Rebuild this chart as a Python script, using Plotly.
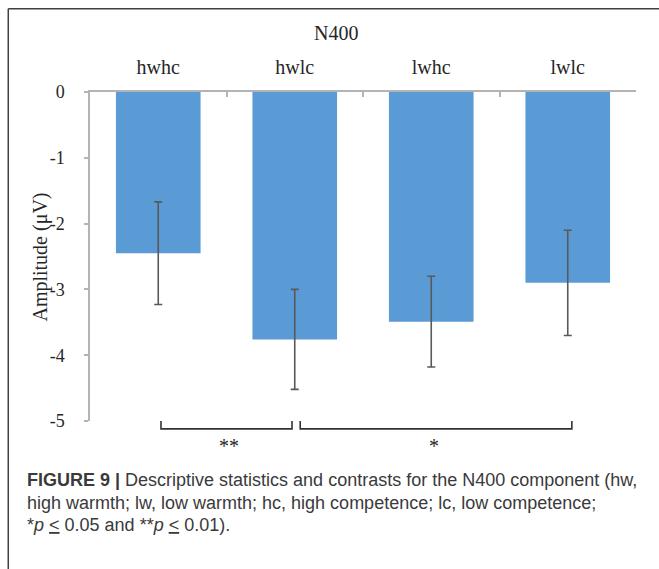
import plotly.graph_objects as go

# ---- data ----
categories = ["hwhc", "hwlc", "lwhc", "lwlc"]
means = [-2.45, -3.76, -3.49, -2.90]
errors = [0.78, 0.76, 0.69, 0.80]
y_ticks = [0, -1, -2, -3, -4, -5]
y_tick_text = ["0", "-1", "-2", "-3", "-4", "-5"]
comp_from = ["hwhc", "hwlc"]
comp_to = ["hwlc", "lwlc"]
comp_label = ["**", "*"]
chart_title = "N400"
y_title = "Amplitude (μV)"
caption_lines = [
    "<b>FIGURE 9 |</b> Descriptive statistics and contrasts for the N400 component (hw,",
    "high warmth; lw, low warmth; hc, high competence; lc, low competence;",
    "*<i>p</i> <u>&lt;</u> 0.05 and **<i>p</i> <u>&lt;</u> 0.01).",
]

# ---- layout geometry ----
W, H = 659, 569
L, R, T, B = 89.5, 23, 92.3, 148.3
PW, PH = W - L - R, H - T - B
YMIN, YMAX = -5, 0


def px(x):
    return (x - L) / PW


def py(y):
    return (H - B - y) / PH


def dy(v):
    return (v - YMIN) / (YMAX - YMIN)


serif = "Liberation Serif, Times New Roman, serif"
sans = "Liberation Sans, Arial, sans-serif"
txt = "#262626"

fig = go.Figure()
fig.add_trace(go.Bar(
    x=categories, y=means,
    marker=dict(color="#5b9bd5", line=dict(width=0)),
    error_y=dict(type="data", array=errors, visible=True,
                 color="#595959", thickness=1.6, width=4),
    width=0.62,
))

shapes = []
annotations = []

# brackets
for a, b, lab in zip(comp_from, comp_to, comp_label):
    i0, i1 = categories.index(a), categories.index(b)
    x0 = i0 + (0.04 if i0 > 0 else 0.02)
    x1 = i1 - (0.02 if i1 < len(categories) - 1 else -0.03)
    ytop, ybot = dy(-5.0), dy(-5.12)
    shapes.append(dict(type="path", xref="x", yref="paper",
                       path=f"M {x0} {ytop} L {x0} {ybot} L {x1} {ybot} L {x1} {ytop}",
                       line=dict(color="#333333", width=1.6)))
    annotations.append(dict(x=(i0 + i1) / 2 + 0.02, y=dy(-5.38), xref="x", yref="paper",
                            xanchor="center", yanchor="middle",
                            text=lab, showarrow=False,
                            font=dict(family=serif, size=20, color=txt)))

# frame
shapes.append(dict(type="line", xref="paper", yref="paper",
                   x0=px(7.7), x1=px(W + 5), y0=py(9.3), y1=py(9.3),
                   line=dict(color="#404040", width=1.5)))
shapes.append(dict(type="line", xref="paper", yref="paper",
                   x0=px(7.7), x1=px(7.7), y0=py(9.3), y1=py(H + 5),
                   line=dict(color="#404040", width=1.5)))

# title
annotations.append(dict(x=px(336), y=py(33), xref="paper", yref="paper",
                        xanchor="center", yanchor="middle",
                        text=chart_title, showarrow=False,
                        font=dict(family=serif, size=20, color=txt)))
# y-axis title
annotations.append(dict(x=px(39), y=py(257), xref="paper", yref="paper",
                        xanchor="center", yanchor="middle",
                        text=y_title, showarrow=False, textangle=-90,
                        font=dict(family=serif, size=20, color=txt)))
# caption
for k, line in enumerate(caption_lines):
    annotations.append(dict(x=px(24), y=py(480 + k * 22.5), xref="paper", yref="paper",
                            xanchor="left", yanchor="middle",
                            text=line, showarrow=False,
                            font=dict(family=sans, size=18, color="#3a3a3a")))

fig.update_layout(
    width=W, height=H,
    margin=dict(l=L, r=R, t=T, b=B, pad=0),
    paper_bgcolor="white", plot_bgcolor="white",
    showlegend=False,
    bargap=0.38,
    shapes=shapes,
    annotations=annotations,
    xaxis=dict(side="top", type="category", range=[-0.5, 3.5],
               showline=True, linecolor="#b4b4b4", linewidth=1.5,
               ticks="inside", tickson="boundaries", ticklen=5,
               tickcolor="#b4b4b4", tickwidth=1.5,
               showgrid=False, zeroline=False,
               tickfont=dict(family=serif, size=20, color=txt),
               ticklabelstandoff=8),
    yaxis=dict(range=[YMIN, YMAX], tickvals=y_ticks, ticktext=y_tick_text,
               showline=True, linecolor="#b4b4b4", linewidth=1.5,
               ticks="outside", ticklen=4, tickcolor="#b4b4b4", tickwidth=1.5,
               showgrid=False, zeroline=False,
               tickfont=dict(family=serif, size=18, color=txt),
               ticklabelstandoff=16),
)

fig.write_html("out.html")
